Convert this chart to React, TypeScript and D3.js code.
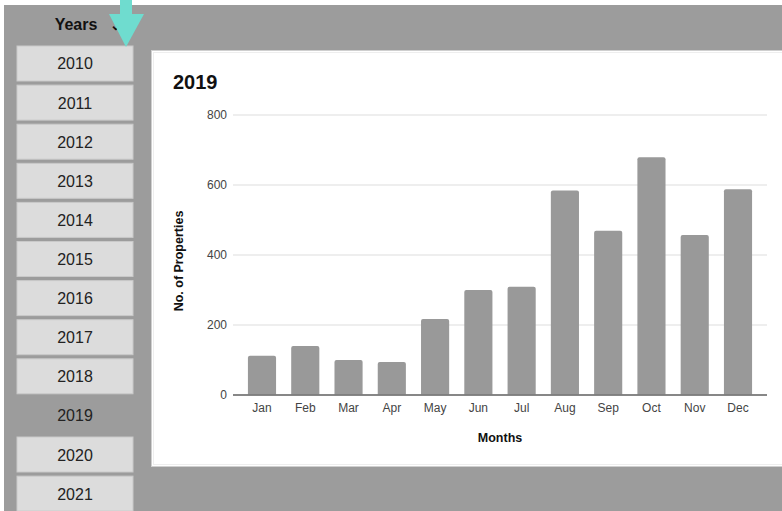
import React from "react";
import * as d3 from "d3";

const months = ["Jan", "Feb", "Mar", "Apr", "May", "Jun", "Jul", "Aug", "Sep", "Oct", "Nov", "Dec"];
const properties = [112, 140, 100, 94, 217, 300, 309, 584, 469, 679, 457, 588];
const yTicks = [0, 200, 400, 600, 800];
const years = ["2010", "2011", "2012", "2013", "2014", "2015", "2016", "2017", "2018", "2019", "2020", "2021"];
const selectedYear = "2019";

const FONT = "'Liberation Sans', Arial, sans-serif";

export default function App() {
  const W = 782, H = 511;
  const x = d3.scaleBand<string>().domain(months).range([233, 767]).paddingInner(0.35).paddingOuter(0.345);
  const y = d3.scaleLinear().domain([0, 800]).range([395, 115]);
  const yearY = d3.scaleBand<string>().domain(years).range([46, 46 + 39.1 * 11 + 35]).paddingInner(0.105).paddingOuter(0);

  return (
    <svg width={W} height={H} style={{ position: "absolute", left: 0, top: 0, display: "block" }} fontFamily={FONT}>
      <rect x={0} y={0} width={W} height={H} fill="#ffffff" />
      <rect x={4} y={5} width={W - 4} height={H - 5} fill="#9c9c9c" />

      {/* Years header */}
      <text x={76} y={30} textAnchor="middle" fontSize={16} fontWeight="bold" fill="#111">Years</text>
      <text x={116} y={30} textAnchor="middle" fontSize={14} fontWeight="bold" fill="#111">⌄</text>

      {years.map((yr) => {
        const top = yearY(yr)!;
        const h = yearY.bandwidth();
        const sel = yr === selectedYear;
        return (
          <g key={yr}>
            {!sel && <rect x={17} y={top} width={116} height={h} fill="#dcdcdc" stroke="#c9c9c9" strokeWidth={1} />}
            <text x={75} y={top + h / 2 + 6} textAnchor="middle" fontSize={16} fill="#222">{yr}</text>
          </g>
        );
      })}

      {/* Arrow */}
      <rect x={120} y={0} width={12} height={15} fill="#6fdccf" />
      <polygon points="109,14 144,14 126,47" fill="#6fdccf" />

      {/* Chart panel */}
      <rect x={151.5} y={50.5} width={640} height={416} fill="#ffffff" stroke="#cfcfcf" strokeWidth={1} />
      <rect x={153.5} y={52.5} width={640} height={412} fill="none" stroke="#eeeeee" strokeWidth={1} />
      <text x={173} y={89} fontSize={20} fontWeight="bold" fill="#111">2019</text>

      {/* Gridlines */}
      {yTicks.map((t) => (
        <g key={t}>
          <line x1={233} x2={767} y1={y(t)} y2={y(t)} stroke={t === 0 ? "#555" : "#dddddd"} strokeWidth={t === 0 ? 1.2 : 1} />
          <text x={227} y={y(t) + 4} textAnchor="end" fontSize={12} fill="#444">{t}</text>
        </g>
      ))}

      {/* Bars */}
      {months.map((m, i) => {
        const bx = x(m)!;
        const bw = x.bandwidth();
        const top = y(properties[i]);
        const bottom = y(0);
        const r = 2;
        const d = `M${bx},${bottom} L${bx},${top + r} Q${bx},${top} ${bx + r},${top} L${bx + bw - r},${top} Q${bx + bw},${top} ${bx + bw},${top + r} L${bx + bw},${bottom} Z`;
        return (
          <g key={m}>
            <path d={d} fill="#999999" />
            <text x={bx + bw / 2} y={412} textAnchor="middle" fontSize={12} fill="#444">{m}</text>
          </g>
        );
      })}
      <line x1={233} x2={767} y1={y(0)} y2={y(0)} stroke="#666" strokeWidth={1.2} />

      <text x={500} y={442} textAnchor="middle" fontSize={12.5} fontWeight="bold" fill="#111">Months</text>
      <text transform={`translate(183,261) rotate(-90)`} textAnchor="middle" fontSize={12.5} fontWeight="bold" fill="#111">No. of Properties</text>
    </svg>
  );
}
